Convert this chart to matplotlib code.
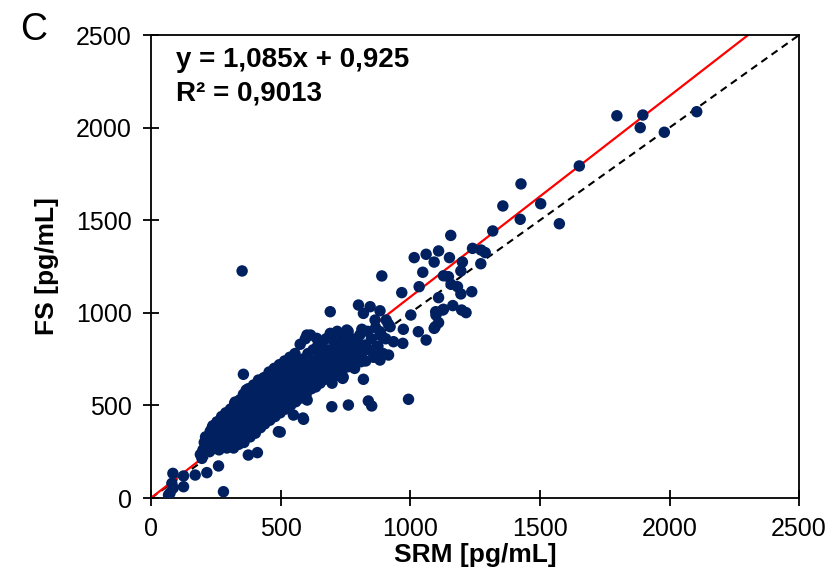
import matplotlib
matplotlib.use("Agg")
import matplotlib.pyplot as plt
import numpy as np

plt.rcParams['font.family'] = ['Liberation Sans', 'DejaVu Sans']

# fitted line and identity line
slope = 1.085
intercept = 0.925
r2_text = "R² = 0,9013"
eq_text = "y = 1,085x + 0,925"

# high range, sparse points (SRM, FS)
srm_high = [1797, 1897, 1887, 1980, 2105, 1652, 1503, 1575, 1427, 1357, 1424, 1318,
            1156, 1240, 1273, 1289, 1015, 1061, 1109, 1092, 1151, 1201, 1272, 1048,
            1195, 1128, 1147, 1034, 1157, 1182, 1195, 1237, 967, 1109, 1164, 1125,
            1098, 1198, 1215, 1002, 1099, 1109, 1092, 973, 1031, 1061, 971, 1128,
            1096, 890, 351]
fs_high = [2064, 2068, 2000, 1975, 2086, 1793, 1589, 1481, 1696, 1577, 1505, 1442,
           1418, 1348, 1339, 1325, 1298, 1316, 1334, 1274, 1298, 1274, 1265, 1219,
           1226, 1200, 1195, 1141, 1154, 1141, 1102, 1114, 1109, 1082, 1039, 1015,
           1006, 1015, 1001, 988, 988, 947, 916, 911, 898, 853, 835, 1019,
           925, 1199, 1226]

# middle range
srm_mid = [800, 845, 691, 883, 819, 864, 907, 755, 813, 883, 922, 601, 639, 691,
           742, 890, 935, 768, 826, 871, 868, 916, 883, 810, 761, 729, 819, 739,
           993, 838, 851, 761, 697, 588, 549, 491, 498, 586, 602, 741]
fs_mid = [1042, 1033, 1006, 1011, 997, 961, 961, 907, 911, 898, 925, 880, 862, 889,
          862, 875, 844, 817, 826, 817, 790, 772, 745, 736, 709, 691, 641, 646,
          533, 524, 497, 502, 493, 425, 448, 358, 356, 432, 529, 653]

# low range
srm_low = [356, 414, 367, 279, 375, 410, 125, 84, 170, 215, 260, 196, 125, 80, 67,
           73, 85, 220, 216, 235, 254, 285, 324, 471]
fs_low = [668, 637, 583, 34, 232, 245, 119, 133, 124, 137, 173, 214, 61, 79, 16,
          27, 54, 259, 297, 378, 411, 421, 518, 621]

# dense main cluster
srm_core = [190, 200, 205, 210, 215, 225, 228, 232, 238, 240, 245,
            252, 255, 258, 262, 265, 270, 272, 276, 280, 284, 288, 292, 295, 298, 300,
            304, 306, 308, 312, 315, 318, 322, 325, 328, 332, 335, 338, 342, 345, 348, 350,
            354, 356, 358, 362, 365, 368, 372, 375, 378, 382, 385, 388, 392, 395, 398,
            402, 405, 408, 412, 415, 418, 422, 425, 428, 432, 435, 438, 442, 445, 448,
            452, 455, 458, 462, 465, 468, 472, 475, 478, 482, 485, 488, 492, 495, 498,
            502, 505, 508, 512, 515, 518, 522, 525, 528, 532, 535, 538, 542, 545, 548,
            552, 555, 558, 562, 565, 568, 572, 575, 578, 582, 585, 588, 592, 595, 598,
            602, 605, 608, 612, 615, 618, 622, 625, 628, 632, 635, 638, 642, 645, 648,
            652, 655, 658, 662, 665, 668, 672, 675, 678, 682, 685, 688, 692, 695, 698,
            702, 705, 708, 712, 715, 718, 722, 725, 728, 732, 735, 738, 742, 745, 748,
            752, 756, 760, 765, 770, 775, 780, 785, 790, 795,
            805, 812, 820, 828, 835, 842, 850, 858, 866, 875, 885, 895, 905, 915]
fs_core = [235, 260, 300, 330, 280, 250, 360, 310, 390, 270, 340,
           300, 410, 350, 260, 380, 320, 440, 290, 400, 350, 460, 270, 320, 420, 380,
           300, 480, 350, 440, 400, 270, 510, 360, 320, 460, 420, 290, 530, 380, 340, 480,
           440, 560, 300, 400, 510, 350, 470, 590, 420, 330, 540, 380, 490, 610, 450,
           350, 560, 410, 520, 630, 470, 380, 590, 440, 540, 650, 400, 500, 610, 460,
           560, 680, 420, 520, 630, 480, 580, 700, 440, 540, 650, 500, 600, 720, 460,
           560, 670, 520, 620, 740, 480, 580, 690, 540, 640, 760, 500, 600, 710, 560,
           660, 780, 520, 620, 730, 580, 680, 830, 540, 640, 750, 600, 700, 860, 560,
           660, 780, 620, 720, 880, 590, 680, 800, 640, 740, 600, 700, 820, 660, 760,
           620, 720, 840, 680, 780, 640, 740, 860, 700, 800, 660, 760, 720, 880, 620,
           780, 700, 840, 660, 760, 900, 720, 820, 680, 780, 740, 860, 700, 800, 760,
           840, 720, 900, 780, 740, 860, 800, 700, 760, 840,
           880, 780, 820, 740, 900, 800, 860, 760, 920, 820, 880, 780, 860, 940]

srm = np.array(srm_core + srm_low + srm_mid + srm_high)
fs = np.array(fs_core + fs_low + fs_mid + fs_high)

fig = plt.figure(figsize=(8.35, 5.78), dpi=100)
ax = fig.add_axes([0.181, 0.1384, 0.776, 0.801])

line_x = np.array([0, 2500])
ax.plot(line_x, line_x, color='black', lw=1.5, dashes=(3.5, 2.5), zorder=1)
ax.plot(line_x, slope * line_x + intercept, color='#ff0000', lw=1.6, zorder=2)
ax.scatter(srm, fs, s=68, color='#002060', edgecolors='none', zorder=3)

ax.set_xlim(0, 2500)
ax.set_ylim(0, 2500)
ax.set_xticks(np.arange(0, 2501, 500))
ax.set_yticks(np.arange(0, 2501, 500))
ax.tick_params(direction='inout', length=12, width=1.3, labelsize=18, pad=8)
for sp in ax.spines.values():
    sp.set_linewidth(1.3)

ax.set_xlabel("SRM [pg/mL]", fontsize=19, fontweight='bold', labelpad=1)
ax.set_ylabel("FS [pg/mL]", fontsize=19, fontweight='bold', labelpad=12)

ax.text(0.038, 0.946, eq_text, transform=ax.transAxes, fontsize=20,
        fontweight='bold', va='center', ha='left')
ax.text(0.038, 0.874, r2_text, transform=ax.transAxes, fontsize=20,
        fontweight='bold', va='center', ha='left')

fig.text(0.04, 0.948, "C", fontsize=27, va='center', ha='center')

fig.savefig("out.png", dpi=100)
